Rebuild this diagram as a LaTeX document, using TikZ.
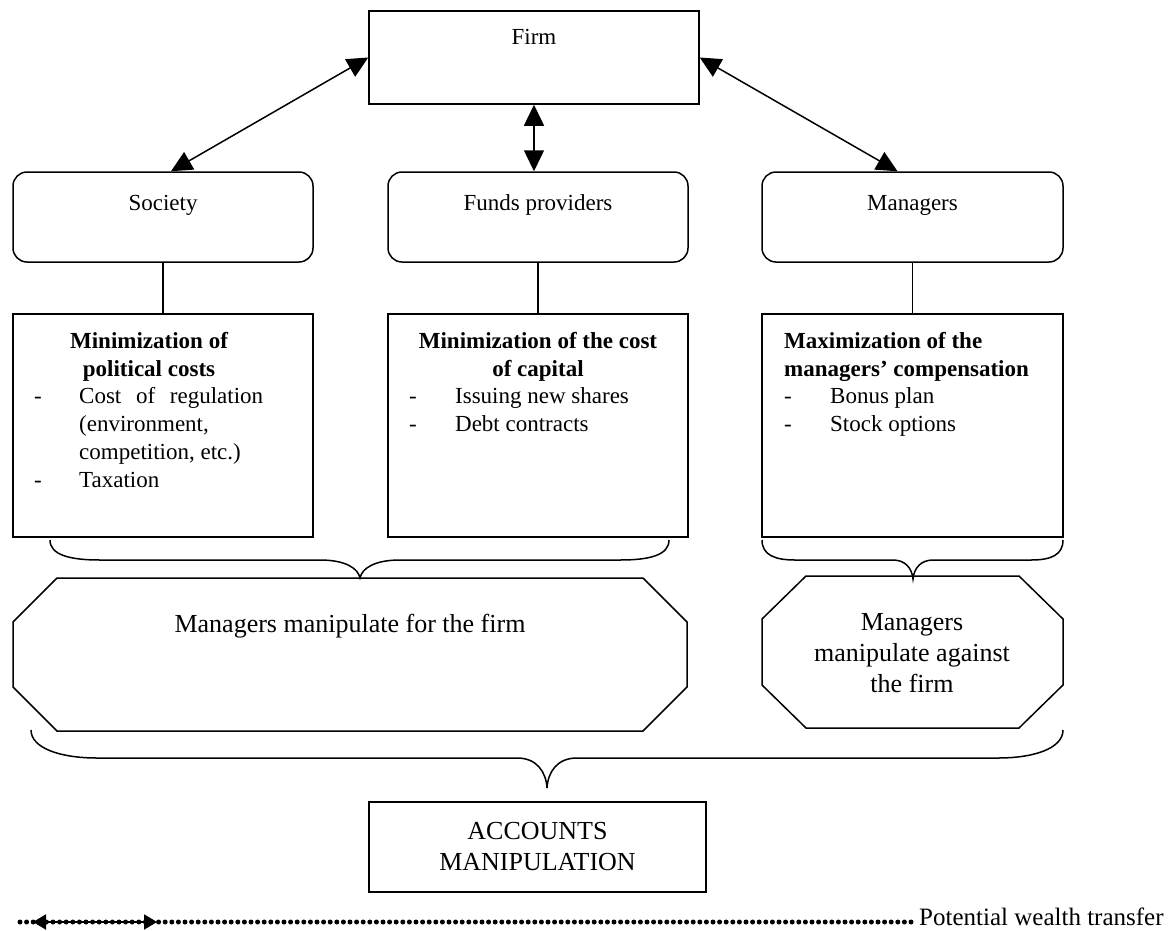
\documentclass[tikz,border=0pt]{standalone}
\usepackage{fontspec}
\setmainfont{Liberation Serif}
\usetikzlibrary{arrows.meta}
\begin{document}
\begin{tikzpicture}[x=1pt,y=-1pt,
 box/.style={draw, line width=1.5pt, inner sep=0pt},
 rbox/.style={box, rounded corners=14pt},
 txt/.style={font=\fontsize{23}{28}\selectfont, inner sep=0pt},
 bigtxt/.style={font=\fontsize{26}{31}\selectfont, inner sep=0pt},
 link/.style={line width=1.5pt},
 dbl/.style={line width=1.5pt, {Triangle[length=21pt,width=20pt]}-{Triangle[length=21pt,width=20pt]}},
 brace/.style={line width=1.5pt},
 dotline/.style={line width=5pt, line cap=round, dash pattern=on 0pt off 6.6pt},
]
\useasboundingbox (0,0) rectangle (1168,930);

% top
\node[box, minimum width=330pt, minimum height=93pt] (firm) at (534,57.5) {};
\node[txt, anchor=base] (firmt) at (534,44) {Firm};

\node[rbox, minimum width=300pt, minimum height=90pt] (soc) at (163,217) {};
\node[txt, anchor=base] (soct) at (163,210) {Society};
\node[rbox, minimum width=300pt, minimum height=90pt] (fund) at (538,217) {};
\node[txt, anchor=base] (fundt) at (538,210) {Funds providers};
\node[rbox, minimum width=301pt, minimum height=90pt] (mgr) at (912.5,217) {};
\node[txt, anchor=base] (mgrt) at (912.5,210) {Managers};

\draw[dbl] (firm.west) -- ([xshift=8pt]soc.north);
\draw[dbl] (firm.south) -- (firm.south |- fund.north);
\draw[dbl] (firm.east) -- ([xshift=-15pt]mgr.north);

% lower boxes
\node[box, minimum width=300pt, minimum height=223pt] (socl) at (163,425.5) {};
\node[box, minimum width=300pt, minimum height=223pt] (fundl) at (538,425.5) {};
\node[box, minimum width=301pt, minimum height=223pt] (mgrl) at (912.5,425.5) {};
\draw[link] (soc.south) -- (socl.north);
\draw[link] (fund.south) -- (fundl.north);
\draw[link] (mgr.south) -- (mgrl.north);

\node[txt, anchor=base] (soctitle) at (149,348) {\bfseries\begin{tabular}[t]{@{}c@{}}Minimization of\\political costs\end{tabular}};
\node[txt, anchor=base west] (soclist) at (34,403) {\begin{tabular}[t]{@{}p{45pt}@{}l@{}}-&\makebox[184pt][s]{Cost of regulation}\\&(environment,\\&competition, etc.)\\-&Taxation\end{tabular}};

\node[txt, anchor=base] (fundtitle) at (538,348) {\bfseries\begin{tabular}[t]{@{}c@{}}Minimization of the cost\\of capital\end{tabular}};
\node[txt, anchor=base west] (fundlist) at (409,403) {\begin{tabular}[t]{@{}p{46pt}@{}l@{}}-&Issuing new shares\\-&Debt contracts\end{tabular}};

\node[txt, anchor=base west] (mgrtitle) at (784,348) {\bfseries\begin{tabular}[t]{@{}l@{}}Maximization of the\\managers’ compensation\end{tabular}};
\node[txt, anchor=base west] (mgrlist) at (784,403) {\begin{tabular}[t]{@{}p{46pt}@{}l@{}}-&Bonus plan\\-&Stock options\end{tabular}};

% braces under boxes
\draw[brace] (50,540) .. controls (50,555) and (70,560) .. (100,560) -- (320,560)
  .. controls (345,560) and (358,568) .. (360,578)
  .. controls (362,568) and (375,560) .. (400,560) -- (620,560)
  .. controls (650,560) and (669,555) .. (669,540);
\draw[brace] (762,540) .. controls (762,555) and (775,560) .. (795,560) -- (893,560)
  .. controls (905,560) and (912,568) .. (913,579)
  .. controls (914,568) and (921,560) .. (933,560) -- (1031,560)
  .. controls (1051,560) and (1063,555) .. (1063,540);

% octagons
\draw[box] (57,578) -- (643,578) -- (687,622) -- (687,687) -- (643,731) -- (57,731) -- (13,687) -- (13,622) -- cycle;
\node[bigtxt, anchor=base] (fortxt) at (350,632) {Managers manipulate for the firm};
\draw[box] (806,576) -- (1019,576) -- (1063,619) -- (1063,685) -- (1019,728) -- (806,728) -- (762,685) -- (762,619) -- cycle;
\node[bigtxt, anchor=base] (againsttxt) at (912,630) {\begin{tabular}[t]{@{}c@{}}Managers\\manipulate against\\the firm\end{tabular}};

% big brace
\draw[brace] (31,730) .. controls (31,748) and (60,758) .. (97,758) -- (517,758)
  .. controls (537,758) and (546,772) .. (547,788)
  .. controls (548,772) and (557,758) .. (577,758) -- (998,758)
  .. controls (1035,758) and (1063,748) .. (1063,730);

% accounts manipulation
\node[box, bigtxt, minimum width=337pt, minimum height=90pt, align=center] (acc) at (537.5,847) {ACCOUNTS\\MANIPULATION};

% bottom line
\node[font=\fontsize{25}{30}\selectfont, anchor=base west, inner sep=0pt] (pwt) at (919,925) {Potential wealth transfer};
\coordinate (dl) at (20,922);
\coordinate (wa) at (33,922);
\coordinate (wb) at (157,922);
\draw[dotline] (dl) -- ([xshift=-6pt]dl -| pwt.west);
\draw[line width=2pt, {Triangle[length=13pt,width=15pt]}-{Triangle[length=13pt,width=15pt]}] (wa) -- (wb);
\end{tikzpicture}
\end{document}
